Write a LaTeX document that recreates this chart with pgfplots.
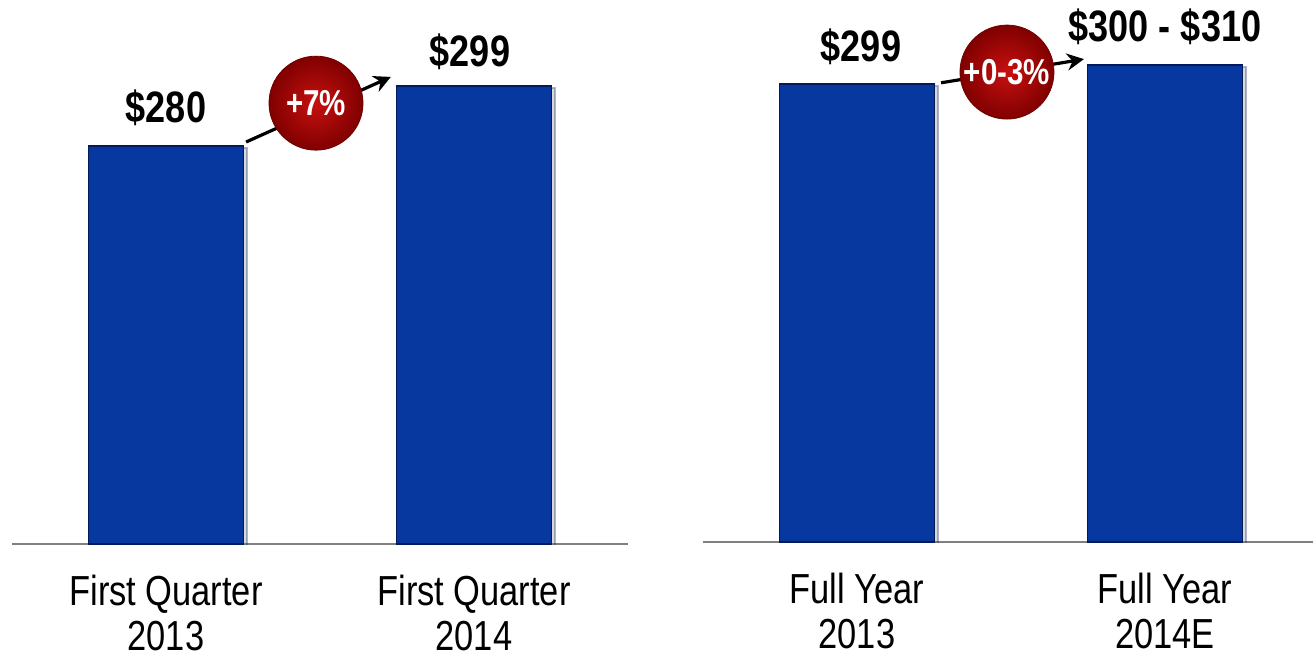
\documentclass[border=0pt]{standalone}
\usepackage{pgfplots}
\pgfplotsset{compat=1.18}
\usepackage{fontspec}
\setmainfont{Liberation Sans}
\newfontfamily\narrow[FakeStretch=0.82]{Liberation Sans}
\usetikzlibrary{shadows,arrows.meta}
\definecolor{barblue}{RGB}{6,56,160}
\definecolor{baredge}{RGB}{2,26,90}
\definecolor{badgein}{RGB}{200,16,16}
\definecolor{badgeout}{RGB}{128,0,0}

\pgfplotsset{
 panel/.style={scale only axis, height=246.5pt, ymin=154, ymax=310,
   axis y line=none, axis x line=bottom,
   x axis line style={-, draw=gray, line width=1pt},
   xtick={0,1}, major tick length=0pt, ytick=\empty,
   xticklabel style={align=center, font=\narrow\fontsize{21}{22.5}\selectfont, yshift=-12pt},
   clip=true, anchor=south west},
 bars/.style={ybar, bar width=77.5pt, fill=barblue, draw=baredge, line width=0.9pt,
   drop shadow={shadow xshift=1.8pt, shadow yshift=-1pt, opacity=0.3}}
}
\tikzset{
 val/.style={font=\narrow\bfseries\fontsize{22}{24}\selectfont, anchor=base},
 badge/.style={circle, minimum size=47pt, inner sep=0pt, inner color=badgein, outer color=badgeout,
   draw=badgeout!85!black, line width=0.4pt, text=white, font=\narrow\bfseries\fontsize{18}{20}\selectfont},
 arr/.style={line width=1.6pt, -{Stealth[length=8.5pt,width=8.5pt]}}
}

\begin{document}
\begin{tikzpicture}
\begin{axis}[panel, at={(6pt,58pt)}, width=308pt, xmin=-0.5, xmax=1.5,
  xticklabels={{First Quarter\\2013},{First Quarter\\2014}}]
\addplot[bars] coordinates {(0,280) (1,299)};
\coordinate (La) at (axis cs:0,287.5);
\coordinate (Lb) at (axis cs:0.987,305);
\coordinate (Lc) at (axis cs:0.487,293.5);
\coordinate (Ls) at (axis cs:0.26,281.2);
\coordinate (Le) at (axis cs:0.73,301.8);
\end{axis}
\begin{axis}[panel, at={(351.5pt,59pt)}, width=304.9pt, xmin=-0.5, xmax=1.48,
  xticklabels={{Full Year\\2013},{Full Year\\2014E}}]
\addplot[bars] coordinates {(0,299) (1,305)};
\coordinate (Ra) at (axis cs:0.013,305.9);
\coordinate (Rb) at (axis cs:1.0,312.5);
\coordinate (Rc) at (axis cs:0.487,302.7);
\coordinate (Rs) at (axis cs:0.273,299.3);
\coordinate (Re) at (axis cs:0.737,306.8);
\end{axis}
\node[val] at (La) {\$280};
\node[val] at (Lb) {\$299};
\draw[arr] (Ls) -- (Le);
\node[badge] at (Lc) {+7\%};
\node[val] at (Ra) {\$299};
\node[val] at (Rb) {\$300 - \$310};
\draw[arr] (Rs) -- (Re);
\node[badge] at (Rc) {+0-3\%};
\pgfresetboundingbox
\path[use as bounding box] (0,0) rectangle (657pt,330pt);
\end{tikzpicture}
\end{document}
